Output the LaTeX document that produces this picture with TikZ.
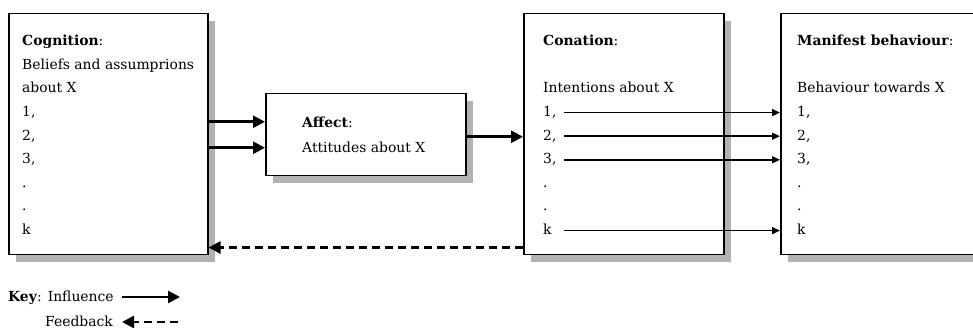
\documentclass[tikz,border=0pt]{standalone}
\usepackage{amsmath}
\usepackage{xcolor}
\usepackage{fontspec}
\setmainfont{DejaVu Serif}
\usepackage{tikz}
\usetikzlibrary{arrows.meta,shadows}

\tikzset{
    box/.style={draw, line width=1.5pt, fill=white, anchor=north west, inner sep=0pt,
        drop shadow={shadow xshift=7pt, shadow yshift=-7pt, fill=black!30, opacity=1}},
    txt/.style={anchor=base west, inner sep=0pt, font=\fontsize{13.9}{16}\selectfont},
    bigarr/.style={line width=2.6pt, -{Triangle[length=12pt,width=12pt]}},
    thinarr/.style={line width=1.6pt, -{Triangle[length=8pt,width=7pt]}},
    fbarr/.style={line width=2.6pt, dash pattern=on 8pt off 5pt, -{Triangle[length=12pt,width=12pt]}}
}

\begin{document}
\begin{tikzpicture}[x=1pt, y=-1pt]
    \useasboundingbox (0,0) rectangle (973,328);

    % boxes
    \node[box, minimum width=199pt, minimum height=241pt] (cog) at (8,13) {};
    \node[box, minimum width=200pt, minimum height=82pt] (aff) at (265,93) {};
    \node[box, minimum width=200pt, minimum height=241pt] (con) at (523,13) {};
    \node[box, minimum width=200pt, minimum height=241pt] (man) at (780,13) {};

    % cognition
    \node[txt] (coghead) at (22,45.8) {\textbf{Cognition}:};
    \node[txt] (cogline1) at (22,69.4) {Beliefs and assumprions};
    \node[txt] (cogline2) at (22,93) {about X};
    \node[txt] (g1) at (22,116.6) {1,};
    \node[txt] (g2) at (22,140.2) {2,};
    \node[txt] (g3) at (22,163.8) {3,};
    \node[txt] (gd1) at (22,187.4) {.};
    \node[txt] (gd2) at (22,211) {.};
    \node[txt] (gk) at (22,234.6) {k};

    % affect
    \node[txt] (affhead) at (302,128) {\textbf{Affect}:};
    \node[txt] (affline) at (302,152.5) {Attitudes about X};

    % conation
    \node[txt] (conhead) at (543,45.8) {\textbf{Conation}:};
    \node[txt] (conline) at (543,93) {Intentions about X};
    \node[txt] (c1) at (543,116.6) {1,};
    \node[txt] (c2) at (543,140.2) {2,};
    \node[txt] (c3) at (543,163.8) {3,};
    \node[txt] (cd1) at (543,187.4) {.};
    \node[txt] (cd2) at (543,211) {.};
    \node[txt] (ck) at (543,234.6) {k};

    % manifest behaviour
    \node[txt] (manhead) at (797,45.8) {\textbf{Manifest behaviour}:};
    \node[txt] (manline) at (797,93) {Behaviour towards X};
    \node[txt] (m1) at (797,116.6) {1,};
    \node[txt] (m2) at (797,140.2) {2,};
    \node[txt] (m3) at (797,163.8) {3,};
    \node[txt] (md1) at (797,187.4) {.};
    \node[txt] (md2) at (797,211) {.};
    \node[txt] (mk) at (797,234.6) {k};

    % influence
    \draw[bigarr] ([yshift=13pt]aff.west -| cog.east) -- ([yshift=13pt]aff.west);
    \draw[bigarr] ([yshift=-13pt]aff.west -| cog.east) -- ([yshift=-13pt]aff.west);
    \draw[bigarr] ([yshift=-2pt]aff.east) -- ([yshift=-2pt]aff.east -| con.west);
    \draw[thinarr] ([shift={(21pt,4pt)}]c1.base west) -- ([yshift=4pt]c1.base -| man.west);
    \draw[thinarr] ([shift={(21pt,4pt)}]c2.base west) -- ([yshift=4pt]c2.base -| man.west);
    \draw[thinarr] ([shift={(21pt,4pt)}]c3.base west) -- ([yshift=4pt]c3.base -| man.west);
    \draw[thinarr] ([shift={(21pt,4pt)}]ck.base west) -- ([yshift=4pt]ck.base -| man.west);

    % feedback
    \draw[fbarr] ([yshift=8pt]con.south west) -- ([yshift=8pt]con.south west -| cog.east);

    % key
    \node[txt] (keyinf) at (8,301) {\textbf{Key}: Influence};
    \node[txt] (keyfb) at (45,326) {Feedback};
    \coordinate (inf0) at (122,297);
    \coordinate (inf1) at (180,297);
    \coordinate (fb0) at (178,322);
    \coordinate (fb1) at (122,322);
    \draw[bigarr] (inf0) -- (inf1);
    \draw[fbarr] (fb0) -- (fb1);
\end{tikzpicture}
\end{document}
